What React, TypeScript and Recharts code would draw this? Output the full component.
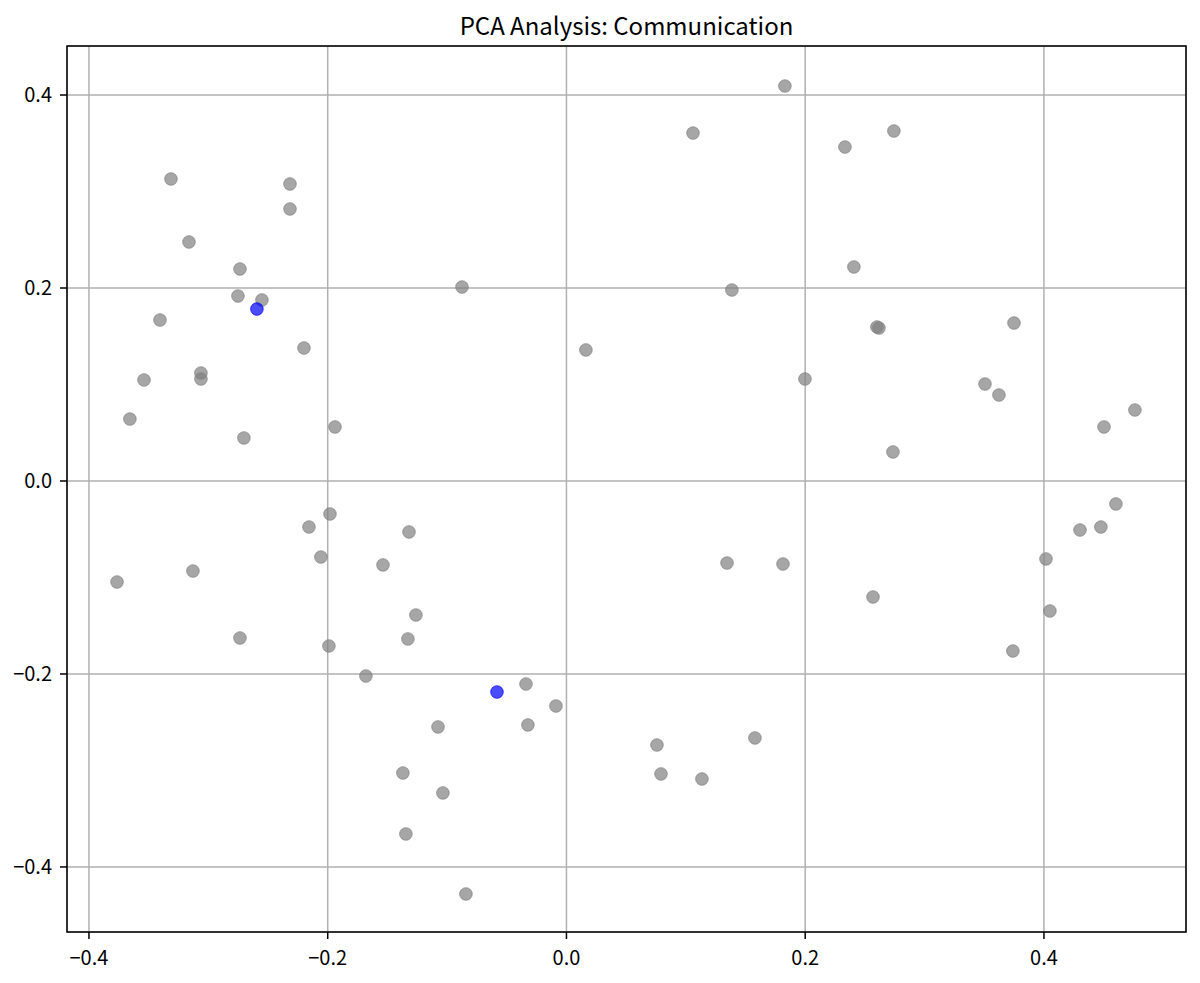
import React from 'react';
import { ScatterChart, Scatter, XAxis, YAxis, CartesianGrid, ReferenceArea } from 'recharts';

const title = 'PCA Analysis: Communication';

const greyX = [
  0.1830, 0.1060, 0.2743, 0.2333, -0.3313, -0.2316, -0.2316, -0.3162, -0.2735, 0.2408,
  -0.2752, -0.2551, -0.0875, 0.1386, -0.3405, -0.2199, 0.0163, 0.2601, 0.2618, 0.3749,
  -0.3539, -0.3062, -0.3062, 0.1998, 0.3506, 0.3623, -0.3657, -0.2702, -0.1939, 0.4762,
  0.4503, 0.2735, 0.4603, 0.4302, 0.4477, -0.1981, -0.2157, -0.1319, -0.2057, -0.1537,
  -0.3765, -0.3129, 0.1345, 0.1814, 0.4017, 0.4050, 0.2568, -0.1261, -0.2735, -0.1328,
  -0.1990, 0.3740, -0.1680, -0.0339, -0.0088, -0.0323, -0.1076, 0.0758, 0.1579, 0.0792,
  0.1135, -0.1370, -0.1035, -0.1345, -0.0842,
];
const greyY = [
  0.4093, 0.3606, 0.3627, 0.3461, 0.3130, 0.3078, 0.2819, 0.2477, 0.2197, 0.2218,
  0.1917, 0.1876, 0.2010, 0.1979, 0.1668, 0.1378, 0.1358, 0.1596, 0.1585, 0.1637,
  0.1047, 0.1119, 0.1057, 0.1057, 0.1005, 0.0891, 0.0642, 0.0446, 0.0560, 0.0736,
  0.0560, 0.0301, -0.0238, -0.0508, -0.0477, -0.0342, -0.0477, -0.0528, -0.0788, -0.0870,
  -0.1047, -0.0933, -0.0850, -0.0860, -0.0808, -0.1347, -0.1202, -0.1389, -0.1627, -0.1637,
  -0.1710, -0.1762, -0.2021, -0.2104, -0.2332, -0.2528, -0.2549, -0.2736, -0.2663, -0.3036,
  -0.3088, -0.3026, -0.3233, -0.3658, -0.4280,
];
const blueX = [-0.2593, -0.0582];
const blueY = [0.1782, -0.2187];

const xTicks = [-0.4, -0.2, 0.0, 0.2, 0.4];
const yTicks = [-0.4, -0.2, 0.0, 0.2, 0.4];
const xDomain: [number, number] = [-0.4184, 0.519];
const yDomain: [number, number] = [-0.4674, 0.4508];

const greyData = greyX.map((x, i) => ({ x, y: greyY[i] }));
const blueData = blueX.map((x, i) => ({ x, y: blueY[i] }));

const FONT = '"Noto Sans CJK JP", "Noto Sans", sans-serif';

const fmt = (v: number) => {
  const s = Math.abs(v).toFixed(1);
  return v < -1e-9 ? '\u2212' + s : s;
};

const makeDot = (color: string) => (props: any) => (
  <circle
    cx={props.cx}
    cy={props.cy}
    r={6.3}
    fill={color}
    fillOpacity={0.7}
    stroke={color}
    strokeOpacity={0.7}
    strokeWidth={1}
  />
);

const greyDot = makeDot('#808080');
const blueDot = makeDot('#0000ff');

export default function App() {
  return (
    <div style={{ position: 'relative', width: 1184, height: 967, fontFamily: FONT }}>
      <div
        style={{
          position: 'absolute',
          left: 59,
          width: 1119,
          top: 3,
          textAlign: 'center',
          fontSize: 24,
          lineHeight: '28px',
          color: '#000',
          fontFamily: FONT,
        }}
      >
        {title}
      </div>
      <ScatterChart width={1184} height={967} margin={{ top: 38, right: 6, bottom: 13, left: 9 }}>
        <CartesianGrid stroke="#b0b0b0" strokeWidth={1.5} />
        <XAxis
          type="number"
          dataKey="x"
          domain={xDomain}
          ticks={xTicks}
          allowDataOverflow
          tickFormatter={fmt}
          height={30}
          tickSize={7}
          tickMargin={12}
          axisLine={false}
          tickLine={{ stroke: '#000', strokeWidth: 1.5 }}
          tick={{ fill: '#000', fontSize: 20, fontFamily: FONT }}
        />
        <YAxis
          type="number"
          dataKey="y"
          domain={yDomain}
          ticks={yTicks}
          allowDataOverflow
          tickFormatter={fmt}
          width={50}
          tickSize={7}
          tickMargin={8}
          axisLine={false}
          tickLine={{ stroke: '#000', strokeWidth: 1.5 }}
          tick={{ fill: '#000', fontSize: 20, fontFamily: FONT }}
        />
        <ReferenceArea
          x1={xDomain[0]}
          x2={xDomain[1]}
          y1={yDomain[0]}
          y2={yDomain[1]}
          fill="none"
          fillOpacity={0}
          stroke="#000"
          strokeWidth={1.5}
          ifOverflow="visible"
        />
        <Scatter data={greyData} shape={greyDot} isAnimationActive={false} />
        <Scatter data={blueData} shape={blueDot} isAnimationActive={false} />
      </ScatterChart>
    </div>
  );
}
